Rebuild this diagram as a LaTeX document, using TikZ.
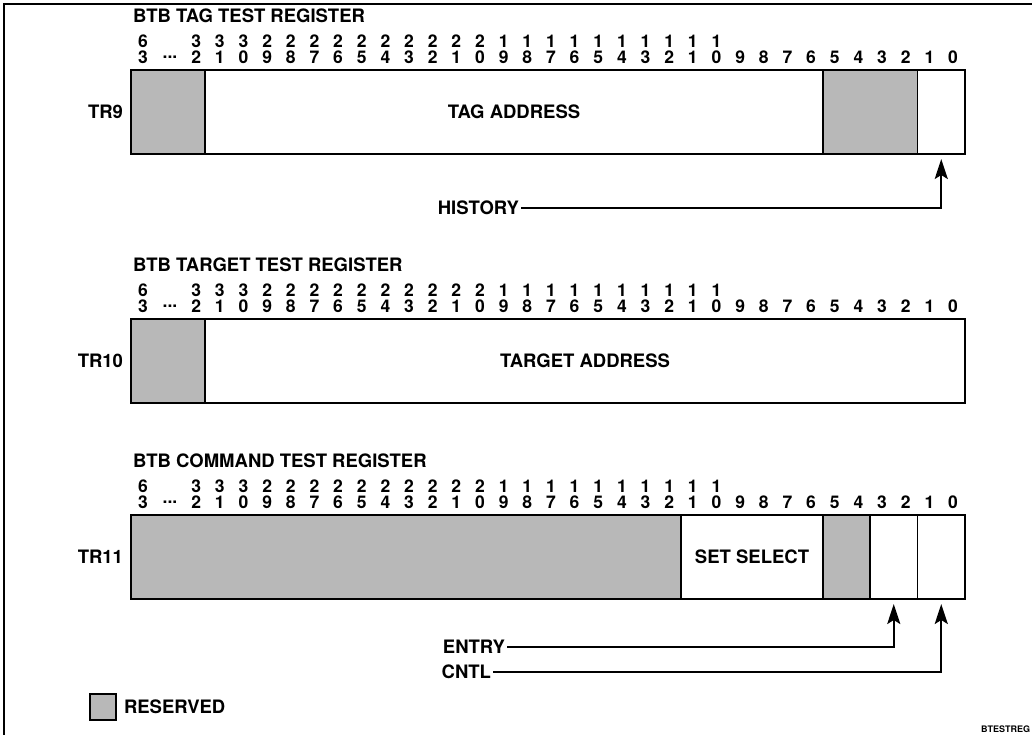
\documentclass[tikz,border=0pt]{standalone}
\usepackage{fontspec}
\setmainfont{TeX Gyre Heros}
\usetikzlibrary{arrows.meta}
\newcommand\regfield[6]{% name, x1, x2, ytop, style, text
  \pgfmathsetmacro\fw{#3-#2}%
  \node[#5, minimum width=\fw pt, minimum height=84pt, anchor=north west] (#1) at (#2,#4) {#6};}
\newcommand\bitrows[2]{% prefix, y of second row
  \node[bit] (#1-t63) at (143,#2-16) {6};
  \node[bit] (#1-o63) at (143,#2) {3};
  \node[bit] (#1-dots) at (170,#2) {...};
  \foreach \b in {0,...,32} {
    \pgfmathsetmacro\xx{953-23.65*\b}
    \pgfmathtruncatemacro\tens{int(\b/10)}
    \pgfmathtruncatemacro\ones{mod(\b,10)}
    \node[bit] (#1-o\b) at (\xx,#2) {\ones};
    \ifnum\b>9 \node[bit] (#1-t\b) at (\xx,#2-16) {\tens}; \fi
  }}
\begin{document}
\begin{tikzpicture}[x=1pt,y=-1pt,
  every node/.style={font=\bfseries\fontsize{18.5}{20}\selectfont, inner sep=0pt, outer sep=0pt},
  bit/.style={font=\bfseries\fontsize{17.5}{18}\selectfont},
  res/.style={fill=black!28, draw=black, line width=1.5pt},
  fld/.style={fill=white, draw=black, line width=1.5pt},
  outer/.style={draw=black, line width=2.4pt},
  arr/.style={line width=2.2pt, shorten >=5pt, -{Stealth[length=20pt,width=13pt,inset=4pt]}},
  title/.style={anchor=west},
  reglbl/.style={anchor=east},
  lbl/.style={anchor=east, outer sep=2pt},
]
\useasboundingbox (0,0) rectangle (1032,735);
\draw[line width=2pt] (4,735) -- (4,4) -- (1032,4);

% ---------- TR9 ----------
\node[title] (t9) at (133,16) {BTB TAG TEST REGISTER};
\bitrows{r9}{57}
\regfield{tr9a}{131}{205}{70}{res}{}
\regfield{tr9b}{205}{823}{70}{fld}{TAG ADDRESS}
\regfield{tr9c}{823}{917.5}{70}{res}{}
\regfield{tr9d}{917.5}{965}{70}{fld}{}
\draw[outer] (tr9a.north west) rectangle (tr9d.south east);
\node[reglbl] (l9) at (123,112) {TR9};
\node[lbl] (hist) at (521,208) {HISTORY};
\draw[arr] (hist.east) -| (tr9d.south);

% ---------- TR10 ----------
\node[title] (t10) at (133,265) {BTB TARGET TEST REGISTER};
\bitrows{r10}{306}
\regfield{tr10a}{131}{205}{319}{res}{}
\regfield{tr10b}{205}{965}{319}{fld}{TARGET ADDRESS}
\draw[outer] (tr10a.north west) rectangle (tr10b.south east);
\node[reglbl] (l10) at (123,361) {TR10};

% ---------- TR11 ----------
\node[title] (t11) at (133,461) {BTB COMMAND TEST REGISTER};
\bitrows{r11}{502}
\regfield{tr11a}{131}{681}{515}{res}{}
\regfield{tr11b}{681}{823}{515}{fld}{SET SELECT}
\regfield{tr11c}{823}{870}{515}{res}{}
\regfield{tr11d}{870}{917.5}{515}{fld}{}
\regfield{tr11e}{917.5}{965}{515}{fld}{}
\draw[outer] (tr11a.north west) rectangle (tr11e.south east);
\node[reglbl] (l11) at (123,557) {TR11};
\node[lbl] (entry) at (507,647) {ENTRY};
\node[lbl] (cntl) at (493,672) {CNTL};
\draw[arr] (entry.east) -| (tr11d.south);
\draw[arr] (cntl.east) -| (tr11e.south);

% ---------- legend ----------
\node[res, minimum width=26pt, minimum height=26pt, anchor=north west] (legbox) at (90,694) {};
\node[anchor=west] (legtxt) at (124,707) {RESERVED};
\node[anchor=east, font=\bfseries\fontsize{9}{10}\selectfont] (tag) at (1030,729) {BTESTREG};
\end{tikzpicture}
\end{document}
